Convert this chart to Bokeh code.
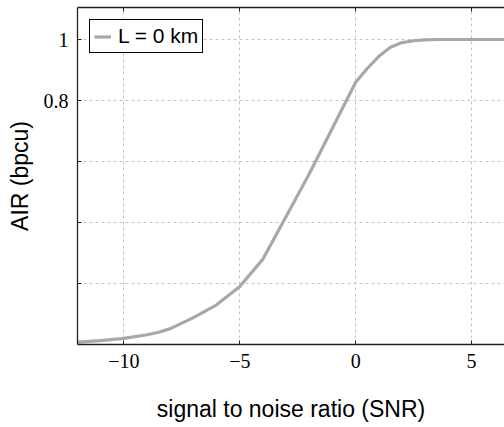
from bokeh.plotting import figure
from bokeh.models import (FixedTicker, CustomJSTickFormatter, LinearAxis, Legend,
                          LegendItem, Range1d, ColumnDataSource)
from bokeh.embed import file_html
from bokeh.resources import INLINE

# ---- data ----
snr = [-12, -11, -10, -9, -8.5, -8, -7, -6, -5, -4, -3, -2, -1, 0, 0.5, 1, 1.5,
       2, 2.5, 3, 3.5, 4, 5, 6, 7]
air = [0.008, 0.013, 0.02, 0.032, 0.04, 0.052, 0.088, 0.13, 0.19, 0.28, 0.42,
       0.56, 0.71, 0.86, 0.905, 0.945, 0.975, 0.99, 0.996, 0.999, 1.0, 1.0, 1.0,
       1.0, 1.0]
x_ticks = [-10, -5, 0, 5]
y_label_ticks = [0.8, 1.0]
y_unlabeled_ticks = [0.2, 0.4, 0.6]
y_grid = [0.2, 0.4, 0.6, 0.8, 1.0]
series_label = "L = 0 km"

SANS = "Liberation Sans"
SERIF = "Liberation Serif"

p = figure(width=504, height=427, output_backend="svg", toolbar_location=None,
           x_range=Range1d(-12, 6.42), y_range=Range1d(0, 1.105),
           min_border_left=77, min_border_right=0, min_border_top=7,
           min_border_bottom=83)
p.background_fill_color = "white"
p.border_fill_color = "white"
p.outline_line_color = None

src = ColumnDataSource(dict(x=snr, y=air))
r = p.line("x", "y", source=src, line_color="#a8a8a8", line_width=3.2)

# axes
xfmt = CustomJSTickFormatter(code="return (tick < 0 ? '\u2212' : '') + Math.abs(tick).toString();")
yfmt = CustomJSTickFormatter(code="return (Math.abs(tick-1) < 1e-9) ? '1' : tick.toFixed(1);")

xa = p.xaxis[0]
xa.ticker = FixedTicker(ticks=x_ticks)
xa.formatter = xfmt
xa.axis_label = "signal to noise ratio (SNR)"
ya = p.yaxis[0]
ya.ticker = FixedTicker(ticks=y_label_ticks, minor_ticks=y_unlabeled_ticks)
ya.formatter = yfmt
ya.axis_label = "AIR (bpcu)"

for ax in (xa, ya):
    ax.axis_line_color = "#222222"
    ax.axis_line_width = 1.3
    ax.major_tick_line_color = "#222222"
    ax.major_tick_in = 4
    ax.major_tick_out = 0
    ax.minor_tick_line_color = "#222222"
    ax.minor_tick_in = 4
    ax.minor_tick_out = 0
    ax.major_label_text_font = SERIF
    ax.major_label_text_font_size = "20px"
    ax.major_label_text_color = "black"
    ax.axis_label_text_font = SANS
    ax.axis_label_text_font_size = "23px"
    ax.axis_label_text_font_style = "normal"
    ax.axis_label_text_color = "black"
xa.minor_tick_line_color = None
xa.major_label_standoff = 9
xa.axis_label_standoff = 25
ya.major_label_standoff = 9
ya.axis_label_standoff = 8

top = LinearAxis(ticker=FixedTicker(ticks=[], minor_ticks=x_ticks),
                 minor_tick_in=4, minor_tick_out=0, major_tick_in=0,
                 major_tick_out=0, major_label_standoff=0,
                 minor_tick_line_color="#222222", axis_line_color="#222222",
                 axis_line_width=1.3, major_tick_line_color="#222222")
p.add_layout(top, "above")

# grid
p.xgrid[0].ticker = FixedTicker(ticks=x_ticks)
p.ygrid[0].ticker = FixedTicker(ticks=y_grid)
for g in (p.xgrid[0], p.ygrid[0]):
    g.grid_line_color = "#c4c4c4"
    g.grid_line_dash = "3 3"
    g.grid_line_width = 1

legend = Legend(items=[LegendItem(label=series_label, renderers=[r])],
                location="top_left", margin=12, padding=4, spacing=0,
                glyph_width=17, glyph_height=21, label_height=21,
                label_standoff=7, label_text_font=SANS,
                label_text_font_size="21px", label_text_color="black",
                border_line_color="black", border_line_alpha=1,
                border_line_width=1, background_fill_color="white",
                background_fill_alpha=1)
p.add_layout(legend)

open("out.html", "w").write(file_html(p, INLINE))
